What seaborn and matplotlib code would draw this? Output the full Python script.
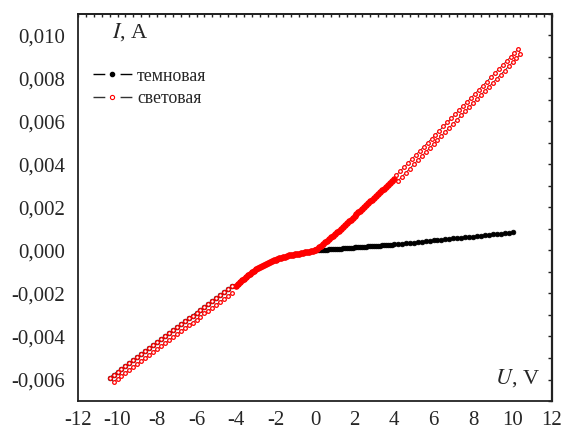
import numpy as np
import pandas as pd
import matplotlib
matplotlib.use("Agg")
import matplotlib.pyplot as plt
import seaborn as sns
from matplotlib.ticker import MultipleLocator, FuncFormatter
from matplotlib.lines import Line2D

# ---------------- data ----------------
# voltage sweep grids (V)
U_dense_pos = np.round(np.arange(0.0, 4.01, 0.1), 2)          # 0 .. 4.0
U_dense_neg = np.round(-np.arange(0.0, 4.01, 0.1), 2)         # 0 .. -4.0
U_light_pos_fwd = np.round(np.arange(4.2, 10.41, 0.2), 2)     # 4.2 .. 10.4
U_light_pos_back = np.round(np.arange(10.3, 4.09, -0.2), 2)   # 10.3 .. 4.1
U_light_neg_fwd = np.round(np.arange(-4.2, -10.41, -0.2), 2)  # -4.2 .. -10.4
U_light_neg_back = np.round(np.arange(-10.2, -4.19, 0.2), 2)  # -10.2 .. -4.2
U_dark_pos_sparse = np.round(np.arange(4.2, 10.01, 0.2), 2)   # 4.2 .. 10.0

# currents (A)
I_light_dense_pos = [0, 0.00008, 0.00015, 0.00023, 0.00031, 0.00039, 0.00046, 0.00054,
                     0.00062, 0.00069, 0.00077, 0.00085, 0.00093, 0.00101, 0.0011, 0.00118,
                     0.00127, 0.00135, 0.00144, 0.00152, 0.00161, 0.00169, 0.00178, 0.00186,
                     0.00195, 0.00203, 0.00212, 0.0022, 0.00229, 0.00237, 0.00246, 0.00254,
                     0.00263, 0.00271, 0.0028, 0.00288, 0.00297, 0.00305, 0.00314, 0.00322,
                     0.00331]
I_dense_neg = [0, -0.00001, -0.00003, -0.00005, -0.00007, -0.00008, -0.0001, -0.00012,
               -0.00014, -0.00015, -0.00017, -0.00019, -0.00021, -0.00023, -0.00026, -0.00028,
               -0.00031, -0.00034, -0.00037, -0.0004, -0.00043, -0.00046, -0.0005, -0.00054,
               -0.00058, -0.00062, -0.00067, -0.00072, -0.00077, -0.00082, -0.00088, -0.00094,
               -0.001, -0.00107, -0.00115, -0.00123, -0.00131, -0.00139, -0.00147, -0.00155,
               -0.00163]
I_light_pos_fwd = [0.00324, 0.00343, 0.00362, 0.00381, 0.004, 0.00419, 0.00438, 0.00457,
                   0.00476, 0.00495, 0.00514, 0.00533, 0.00552, 0.00571, 0.0059, 0.00609,
                   0.00628, 0.00647, 0.00666, 0.00685, 0.00704, 0.00723, 0.00742, 0.00761,
                   0.0078, 0.00799, 0.00818, 0.00837, 0.00856, 0.00875, 0.00894, 0.00913]
I_light_pos_back = [0.00938, 0.00919, 0.009, 0.00881, 0.00862, 0.00843, 0.00824, 0.00805,
                    0.00786, 0.00767, 0.00748, 0.00729, 0.0071, 0.00691, 0.00672, 0.00653,
                    0.00634, 0.00615, 0.00596, 0.00577, 0.00558, 0.00539, 0.0052, 0.00501,
                    0.00482, 0.00463, 0.00444, 0.00425, 0.00406, 0.00387, 0.00368, 0.00349]
I_light_neg_fwd = [-0.00165, -0.00179, -0.00192, -0.00206, -0.0022, -0.00234, -0.00248,
                   -0.00261, -0.00275, -0.00289, -0.00303, -0.00316, -0.0033, -0.00344,
                   -0.00358, -0.00372, -0.00385, -0.00399, -0.00413, -0.00427, -0.0044,
                   -0.00454, -0.00468, -0.00482, -0.00496, -0.00509, -0.00523, -0.00537,
                   -0.00551, -0.00564, -0.00578, -0.00592]
I_light_neg_back = [-0.0061, -0.00596, -0.00583, -0.00569, -0.00555, -0.00541, -0.00528,
                    -0.00514, -0.005, -0.00486, -0.00472, -0.00459, -0.00445, -0.00431,
                    -0.00417, -0.00404, -0.0039, -0.00376, -0.00362, -0.00348, -0.00335,
                    -0.00321, -0.00307, -0.00293, -0.0028, -0.00266, -0.00252, -0.00238,
                    -0.00224, -0.00211, -0.00197]
I_dark_dense_pos = [0, 0.00001, 0.00001, 0.00002, 0.00003, 0.00004, 0.00004, 0.00005,
                    0.00006, 0.00006, 0.00007, 0.00008, 0.00008, 0.00009, 0.0001, 0.00011,
                    0.00011, 0.00012, 0.00013, 0.00013, 0.00014, 0.00015, 0.00015, 0.00016,
                    0.00017, 0.00018, 0.00018, 0.00019, 0.0002, 0.0002, 0.00021, 0.00022,
                    0.00022, 0.00023, 0.00024, 0.00025, 0.00025, 0.00026, 0.00027, 0.00027,
                    0.00028]
I_dark_pos_sparse = [0.0003, 0.00032, 0.00034, 0.00035, 0.00037, 0.00039, 0.00041, 0.00043,
                     0.00045, 0.00047, 0.00049, 0.0005, 0.00052, 0.00054, 0.00056, 0.00058,
                     0.0006, 0.00062, 0.00063, 0.00065, 0.00067, 0.00069, 0.00071, 0.00073,
                     0.00075, 0.00077, 0.00078, 0.0008, 0.00082, 0.00084]
I_dark_neg_sparse = I_light_neg_fwd  # dark reverse branch coincides with the light one

legend_labels = ["темновая", "световая"]
x_ticks = list(range(-12, 13, 2))
y_ticks = [-0.006, -0.004, -0.002, 0.0, 0.002, 0.004, 0.006, 0.008, 0.010]

# ---------------- tables ----------------
dark = pd.DataFrame({
    "U": np.concatenate([U_light_neg_fwd[::-1], U_dense_neg[::-1], U_dense_pos[1:], U_dark_pos_sparse]),
    "I": np.concatenate([I_dark_neg_sparse[::-1], I_dense_neg[::-1], I_dark_dense_pos[1:], I_dark_pos_sparse]),
})
dark["seg"] = 0

light_dense = pd.DataFrame({
    "U": np.concatenate([U_dense_pos, U_dense_neg]),
    "I": np.concatenate([I_light_dense_pos, I_dense_neg]),
})
light_sparse = pd.DataFrame({
    "U": np.concatenate([U_light_pos_fwd, U_light_pos_back, U_light_neg_fwd, U_light_neg_back]),
    "I": np.concatenate([I_light_pos_fwd, I_light_pos_back, I_light_neg_fwd, I_light_neg_back]),
})
lp = pd.DataFrame({"U": np.concatenate([U_dense_pos, U_light_pos_fwd, U_light_pos_back]),
                   "I": np.concatenate([I_light_dense_pos, I_light_pos_fwd, I_light_pos_back])})
lp["seg"] = 1
ln = pd.DataFrame({"U": np.concatenate([U_dense_neg, U_light_neg_fwd, U_light_neg_back]),
                   "I": np.concatenate([I_dense_neg, I_light_neg_fwd, I_light_neg_back])})
ln["seg"] = 2
light_path = pd.concat([lp, ln], ignore_index=True)

# ---------------- style ----------------
sns.set_style("white")
plt.rcParams["font.family"] = ["Liberation Serif", "DejaVu Serif"]
plt.rcParams["mathtext.fontset"] = "stix"
plt.rcParams["axes.unicode_minus"] = False

fig = plt.figure(figsize=(5.64, 4.32), dpi=100)
ax = fig.add_axes([78 / 564, 1 - 401 / 432, 474 / 564, 387 / 432])

# dark curve
sns.lineplot(data=dark, x="U", y="I", units="seg", estimator=None, sort=False, ax=ax,
             color="black", lw=0.8, marker="o", markersize=3.4,
             markerfacecolor="black", markeredgecolor="black", markeredgewidth=0.5,
             legend=False, zorder=2)
# light curve: connecting line, dense part (overlapping rings), sparse loop rings
sns.lineplot(data=light_path, x="U", y="I", units="seg", estimator=None, sort=False, ax=ax,
             color="#333333", lw=0.6, legend=False, zorder=3)
sns.scatterplot(data=light_dense, x="U", y="I", ax=ax, s=15, color="red",
                edgecolor="red", linewidth=0.8, legend=False, zorder=4)
sns.scatterplot(data=light_sparse, x="U", y="I", ax=ax, s=7, color="white",
                edgecolor="red", linewidth=0.9, legend=False, zorder=4)

ax.set_xlim(-12, 12)
ax.set_ylim(-0.007, 0.011)
ax.set_xlabel("")
ax.set_ylabel("")
ax.set_xticks(x_ticks)
ax.set_yticks(y_ticks)
ax.xaxis.set_minor_locator(MultipleLocator(0.4))
ax.yaxis.set_minor_locator(MultipleLocator(0.001))
ax.xaxis.set_major_formatter(FuncFormatter(lambda v, p: f"{v:.0f}"))
ax.yaxis.set_major_formatter(FuncFormatter(lambda v, p: f"{v:.3f}".replace(".", ",")))

for s in ax.spines.values():
    s.set_linewidth(1.3)
    s.set_color("#222222")
    s.set_visible(True)

ax.tick_params(axis="both", which="major", direction="out", labelsize=15,
               width=1.0, color="#222222")
ax.tick_params(axis="x", which="major", length=4.5, pad=3)
ax.tick_params(axis="y", which="major", length=7, pad=2)
ax.tick_params(axis="x", which="minor", direction="out", length=2.5, width=1.0, color="#222222")
ax.tick_params(axis="y", which="minor", direction="out", length=3.5, width=1.0, color="#222222")
ax.tick_params(top=False, right=False, which="both")

# inward ticks on top and right
sx = ax.secondary_xaxis("top")
sx.set_xticks(x_ticks)
sx.xaxis.set_minor_locator(MultipleLocator(0.4))
sx.tick_params(which="both", direction="in", length=2.2, width=1.0, labeltop=False,
               color="#222222")
sx.spines["top"].set_linewidth(1.3)
sy = ax.secondary_yaxis("right")
sy.set_yticks(y_ticks)
sy.yaxis.set_minor_locator(MultipleLocator(0.001))
sy.tick_params(which="both", direction="in", length=3.0, width=1.0, labelright=False,
               color="#222222")
sy.spines["right"].set_linewidth(1.6)

# axis captions
ax.text(0.072, 0.953, r"$I$, A", transform=ax.transAxes, fontsize=16, va="center", ha="left")
ax.text(0.975, 0.059, r"$U$, V", transform=ax.transAxes, fontsize=16, va="center", ha="right")

# legend
h_dark = Line2D([], [], color="black", lw=1.0, linestyle=(0, (8.5, 11, 8.5, 50)), marker="o",
                markersize=3.0, markerfacecolor="black", markeredgecolor="black")
h_light = Line2D([], [], color="#333333", lw=1.0, linestyle=(0, (8.5, 11, 8.5, 50)), marker="o",
                 markersize=3.0, markerfacecolor="white", markeredgecolor="red",
                 markeredgewidth=0.8)
ax.legend([h_dark, h_light], legend_labels, loc="upper left",
          bbox_to_anchor=(0.016, 0.880), frameon=False, fontsize=12.8,
          handlelength=2.2, handletextpad=0.3, labelspacing=0.33, numpoints=1,
          borderaxespad=0.0)

fig.savefig("out.png", dpi=100)
